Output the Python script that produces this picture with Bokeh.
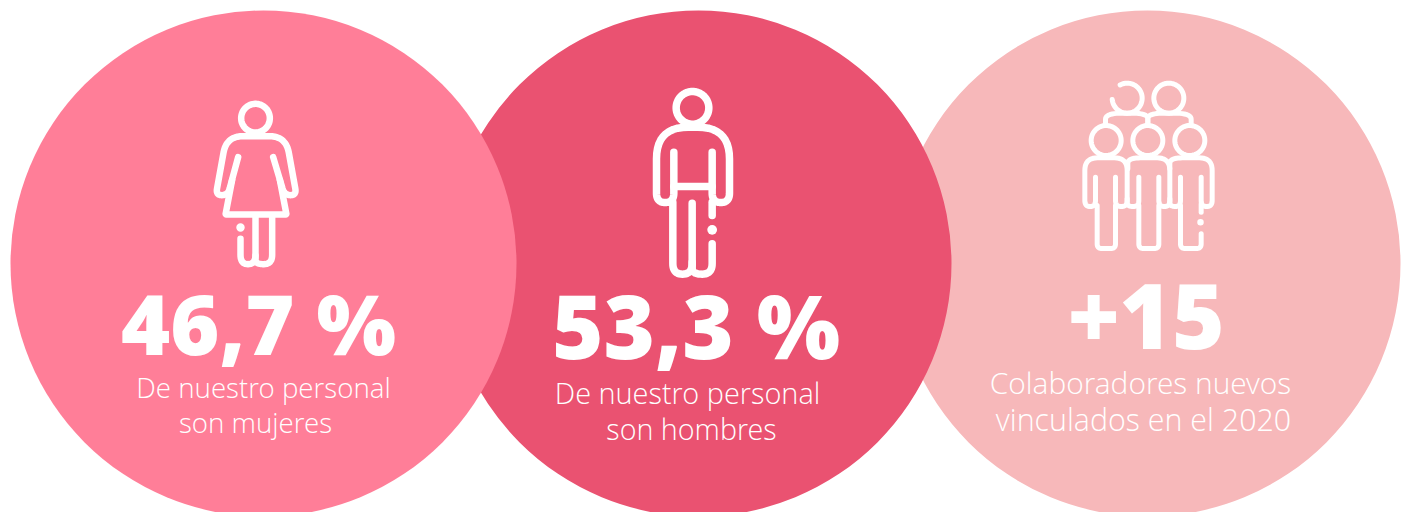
import numpy as np
from bokeh.plotting import figure
from bokeh.models import Range1d, ColumnDataSource
from bokeh.core.properties import value
from bokeh.embed import file_html
from bokeh.resources import INLINE

circle_x = [1147, 698, 263]
circle_y = [263, 263, 263]
circle_r = [253, 253, 253]
circle_colors = ["#F7B8BA", "#EA5271", "#FF7E98"]

big_labels = ["46,7 %", "53,3 %", "+15"]
big_x = [258, 695.5, 1146]
big_y = [358, 362, 355]
big_sizes = ["84px", "88px", "90px"]

small_labels = ["De nuestro personal", "son mujeres", "De nuestro personal", "son hombres",
                "Colaboradores nuevos", "vinculados en el 2020"]
small_x = [263, 255, 687, 691, 1140, 1143]
small_y = [398, 433, 404, 440, 394, 431]
small_sizes = ["27.7px", "27.7px", "28.9px", "28.7px", "29.9px", "30.4px"]

WHITE = "#FFFFFF"
BOLD_FONT = "Open Sans ExtraBold"
LIGHT_FONT = "Open Sans Light"


def rounded(points, r):
    """Polyline through points; r is one corner radius or one per interior corner."""
    pts = [np.array(q, float) for q in points]
    rs = r if isinstance(r, (list, tuple)) else [r] * len(pts)
    xs, ys = [pts[0][0]], [pts[0][1]]
    for i in range(1, len(pts) - 1):
        a, b, c = pts[i - 1], pts[i], pts[i + 1]
        rad = rs[i - 1]
        d1 = min(rad, np.linalg.norm(a - b) / 2)
        d2 = min(rad, np.linalg.norm(c - b) / 2)
        s = b + (a - b) / np.linalg.norm(a - b) * d1
        e = b + (c - b) / np.linalg.norm(c - b) * d2
        for t in np.linspace(0, 1, 12):
            q = (1 - t) ** 2 * s + 2 * t * (1 - t) * b + t ** 2 * e
            xs.append(q[0])
            ys.append(q[1])
    xs.append(pts[-1][0])
    ys.append(pts[-1][1])
    return xs, ys


def ring(cx, cy, r, a0=0, a1=360):
    t = np.radians(np.linspace(a0, a1, 72))
    return list(cx + r * np.cos(t)), list(cy + r * np.sin(t))


def place(paths, ox, oy):
    return [[ox + v / 3 for v in x] for x, _ in paths], [[oy + v / 3 for v in y] for _, y in paths]


woman = [
    ring(195, 83, 43),
    rounded([(143, 200), (112, 314), (76, 314), (108, 137), (286, 137), (318, 314), (282, 314), (248, 200)],
            [20, 20, 50, 50, 20, 20]),
    rounded([(125, 268), (105, 372), (288, 372), (268, 268)], 3),
    rounded([(150, 445), (150, 521), (195, 521), (195, 378)], 28),
    rounded([(195, 495), (195, 521), (245, 521), (245, 378)], 28),
]
woman_dots = ([150], [411])

man = [
    ring(186, 82, 49),
    rounded([(130, 215), (130, 366), (78, 366), (78, 140), (297, 140), (297, 366), (245, 366), (245, 215)],
            [28, 28, 95, 95, 28, 28]),
    rounded([(130, 318), (245, 318)], 1),
    rounded([(127, 365), (127, 581), (185, 581), (185, 368)], 32),
    rounded([(185, 545), (185, 581), (245, 581), (245, 490)], 32),
    rounded([(245, 365), (245, 405)], 1),
]
man_dots = ([245], [448])

group = [
    ring(170, 83, 45, -118, 175),
    ring(295, 83, 45),
    ring(107, 210, 45),
    ring(232, 210, 45),
    ring(358, 210, 45),
    rounded([(105, 165), (105, 128), (232, 128), (232, 160)], 50),
    rounded([(232, 160), (232, 128), (362, 128), (362, 165)], 50),
    rounded([(75, 320), (75, 408), (43, 408), (43, 262), (170, 262), (170, 408), (135, 408), (135, 320)],
            [18, 18, 38, 38, 18, 18]),
    rounded([(80, 405), (80, 534), (135, 534), (135, 405)], 14),
    rounded([(205, 320), (205, 408), (170, 408), (170, 385)], 18),
    rounded([(172, 295), (172, 262), (298, 262), (298, 408), (265, 408), (265, 320)], [38, 38, 18, 18]),
    rounded([(205, 405), (205, 534), (265, 534), (265, 405)], 14),
    rounded([(330, 320), (330, 408), (298, 408), (298, 385)], 18),
    rounded([(298, 295), (298, 262), (425, 262), (425, 408), (392, 408), (392, 320)], [38, 38, 18, 18]),
    rounded([(330, 405), (330, 534), (392, 534), (392, 490)], 14),
    rounded([(392, 400), (392, 425)], 1),
]
group_dots = ([390], [455])

p = figure(width=1406, height=512, output_backend="svg", toolbar_location=None,
           x_range=Range1d(0, 1406), y_range=Range1d(512, 0),
           min_border=0, outline_line_color=None, background_fill_color=WHITE)
p.axis.visible = False
p.grid.visible = False

p.circle(x=circle_x, y=circle_y, radius=circle_r, fill_color=circle_colors, line_color=None)

for paths, dots, ox, oy, lw in [(woman, woman_dots, 190, 90, 6.5), (man, man_dots, 630, 80, 7.5), (group, group_dots, 1070, 70, 5)]:
    xs, ys = place(paths, ox, oy)
    p.multi_line(xs, ys, line_color=WHITE, line_width=lw, line_cap="round", line_join="round")
    p.scatter([ox + v / 3 for v in dots[0]], [oy + v / 3 for v in dots[1]], size=lw * 1.3, marker="circle",
              fill_color=WHITE, line_color=None)

big_src = ColumnDataSource(dict(x=big_x, y=big_y, t=big_labels, s=big_sizes,
                                o=[-0.43 * float(v[:-2]) for v in big_sizes]))
p.text(x="x", y="y", text="t", text_font_size="s", y_offset="o", source=big_src,
       text_color=WHITE, text_align="center", text_baseline="alphabetic", text_font=value(BOLD_FONT))
small_src = ColumnDataSource(dict(x=small_x, y=small_y, t=small_labels, s=small_sizes,
                                  o=[-0.41 * float(v[:-2]) for v in small_sizes]))
p.text(x="x", y="y", text="t", text_font_size="s", y_offset="o", source=small_src,
       text_color=WHITE, text_align="center", text_baseline="alphabetic", text_font=value(LIGHT_FONT))

open("out.html", "w").write(file_html(p, INLINE))
